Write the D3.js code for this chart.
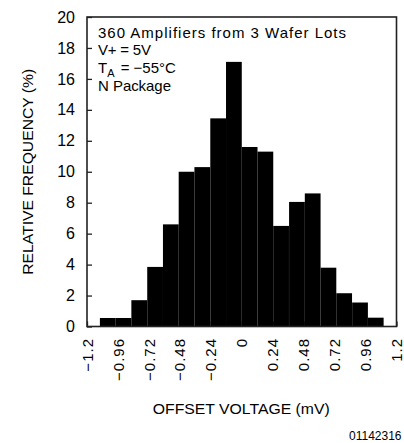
<!DOCTYPE html>
<html>
<head>
<meta charset="utf-8">
<script src="https://cdn.jsdelivr.net/npm/d3@7"></script>
<style>
  html, body { margin: 0; padding: 0; background: #fff; }
  svg { display: block; }
  text { font-family: "Liberation Sans", Arial, sans-serif; fill: #000; }
</style>
</head>
<body>
<svg id="chart" width="404" height="443"></svg>
<script>
// ---- data ----
const binStarts = [-1.1, -0.978, -0.856, -0.733, -0.611, -0.489, -0.367, -0.244, -0.122,
                   0, 0.122, 0.244, 0.367, 0.489, 0.611, 0.733, 0.856, 0.978];
const binWidth = 0.1222;
const frequency = [0.55, 0.55, 1.7, 3.85, 6.6, 10.0, 10.3, 13.45, 17.1,
                   11.6, 11.3, 6.5, 8.05, 8.6, 3.8, 2.15, 1.55, 0.57];
const xTickValues = [-1.2, -0.96, -0.72, -0.48, -0.24, 0, 0.24, 0.48, 0.72, 0.96, 1.2];
const xTickLabels = ["\u22121.2", "\u22120.96", "\u22120.72", "\u22120.48", "\u22120.24", "0",
                     "0.24", "0.48", "0.72", "0.96", "1.2"];
const yTickValues = [0, 2, 4, 6, 8, 10, 12, 14, 16, 18, 20];
const notes = ["360 Amplifiers from 3 Wafer Lots", "V+ = 5V", "T|A| = \u221255\u00B0C", "N Package"];
const xTitle = "OFFSET VOLTAGE (mV)";
const yTitle = "RELATIVE FREQUENCY (%)";
const figId = "01142316";

(function () {
  const svg = d3.select("#chart");
  const pL = 87, pR = 396.5, pT = 17, pB = 326.5;

  const x = d3.scaleLinear().domain([-1.2, 1.2]).range([pL, pR]);
  const y = d3.scaleLinear().domain([0, 20]).range([pB, pT]);

  // x axis (inward ticks, rotated labels)
  const xAxis = svg.append("g")
    .attr("transform", `translate(0,${pB})`)
    .call(d3.axisBottom(x).tickValues(xTickValues)
          .tickFormat((d, i) => xTickLabels[i])
          .tickSizeInner(-5).tickSizeOuter(0));
  xAxis.select(".domain").remove();
  xAxis.selectAll("line").attr("stroke", "#222").attr("stroke-width", 1.3);
  xAxis.selectAll("text")
    .attr("transform", "rotate(-90)")
    .attr("text-anchor", "end")
    .attr("x", -11.5).attr("y", 0).attr("dy", "0.34em")
    .attr("fill", "#000")
    .style("font-size", "15px")
    .style("letter-spacing", "1px")
    .style("font-family", "'Liberation Sans', Arial, sans-serif");

  // y axis (inward ticks)
  const yAxis = svg.append("g")
    .attr("transform", `translate(${pL},0)`)
    .call(d3.axisLeft(y).tickValues(yTickValues)
          .tickSizeInner(-5).tickSizeOuter(0).tickPadding(12));
  yAxis.select(".domain").remove();
  yAxis.selectAll("line").attr("stroke", "#222").attr("stroke-width", 1.3);
  yAxis.selectAll("text")
    .attr("fill", "#000")
    .style("font-size", "16px")
    .style("font-family", "'Liberation Sans', Arial, sans-serif");

  // bars
  svg.append("g").selectAll("rect")
    .data(frequency)
    .join("rect")
    .attr("x", (d, i) => x(binStarts[i]))
    .attr("width", (d, i) => x(binStarts[i] + binWidth) - x(binStarts[i]))
    .attr("y", d => y(d))
    .attr("height", d => y(0) - y(d))
    .attr("fill", "#000");

  // frame
  svg.append("rect")
    .attr("x", pL).attr("y", pT)
    .attr("width", pR - pL).attr("height", pB - pT)
    .attr("fill", "none").attr("stroke", "#222").attr("stroke-width", 1.6);

  // annotations
  const noteWidths = [248, 53, null, 73];
  notes.forEach((s, i) => {
    const t = svg.append("text")
      .attr("x", 98)
      .attr("y", 37.7 + i * 17.7)
      .style("font-size", "15px");
    if (s.includes("|")) {
      const parts = s.split("|");
      t.append("tspan").text(parts[0]);
      t.append("tspan").attr("dy", 4).style("font-size", "11px").text(parts[1]);
      t.append("tspan").attr("dy", -4).attr("dx", 2).text(parts[2]);
    } else {
      t.text(s);
      if (noteWidths[i]) t.attr("textLength", noteWidths[i]).attr("lengthAdjust", "spacing");
    }
  });

  // axis titles
  svg.append("text")
    .attr("x", (pL + pR) / 2 - 0.5)
    .attr("y", 413.5)
    .attr("text-anchor", "middle")
    .attr("textLength", 177).attr("lengthAdjust", "spacingAndGlyphs")
    .style("font-size", "15px")
    .text(xTitle);

  svg.append("text")
    .attr("transform", `translate(32.5,${(pT + pB) / 2}) rotate(-90)`)
    .attr("text-anchor", "middle")
    .attr("textLength", 206).attr("lengthAdjust", "spacingAndGlyphs")
    .style("font-size", "15px")
    .text(yTitle);

  // figure id
  svg.append("text")
    .attr("x", 401.5).attr("y", 440)
    .attr("text-anchor", "end")
    .style("font-size", "12px")
    .text(figId);
})();
</script>
</body>
</html>
